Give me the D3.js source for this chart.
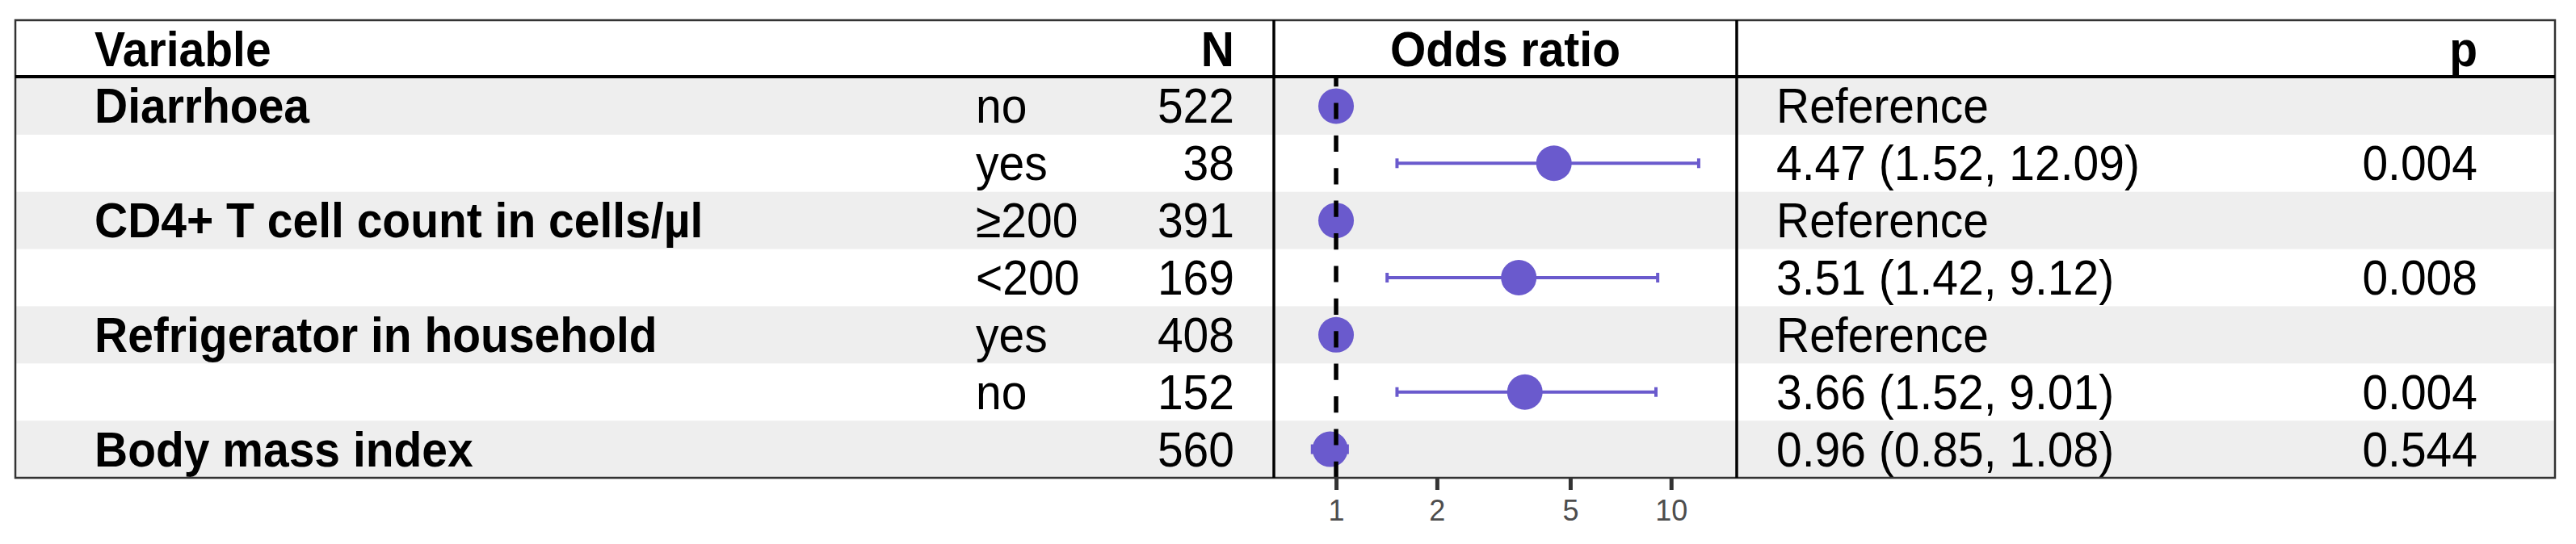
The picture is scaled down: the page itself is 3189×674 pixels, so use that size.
<!DOCTYPE html>
<html>
<head>
<meta charset="utf-8">
<script src="https://cdn.jsdelivr.net/npm/d3@7"></script>
<style>
  body { margin: 0; background: #fff; }
  svg text { font-family: "Liberation Sans", Arial, sans-serif; }
</style>
</head>
<body>
<svg id="chart" width="3189" height="674"></svg>
<script>
// table rows, top to bottom
const variables = ['Diarrhoea', '', 'CD4+ T cell count in cells/µl', '', 'Refrigerator in household', '', 'Body mass index'];
const levels = ['no', 'yes', '≥200', '<200', 'yes', 'no', ''];
const counts = [522, 38, 391, 169, 408, 152, 560];
const estimates = [1, 4.47, 1, 3.51, 1, 3.66, 0.96];
const lower = [null, 1.52, null, 1.42, null, 1.52, 0.85];
const upper = [null, 12.09, null, 9.12, null, 9.01, 1.08];
const estLabels = ['Reference', '4.47 (1.52, 12.09)', 'Reference', '3.51 (1.42, 9.12)', 'Reference', '3.66 (1.52, 9.01)', '0.96 (0.85, 1.08)'];
const pValues = ['', '0.004', '', '0.008', '', '0.004', '0.544'];
const tickValues = [1, 2, 5, 10];

const svg = d3.select('#chart');
const fs = 57;
const stretch = 1.07; // glyphs in the source are a little taller than wide
const frameL = 19, frameR = 3163, frameT = 25, headB = 96, frameB = 592;
const sep1 = 1577, sep2 = 2150;
const pointColor = '#6A5ACD';

const rows = d3.range(variables.length);
const y = d3.scaleBand().domain(rows).range([headB, frameB]);
const x = d3.scaleLog().domain([0.652, 15.7]).range([sep1, sep2]);
const mid = i => y(i) + y.bandwidth() / 2;
const base = i => mid(i) + 21;

// striped backgrounds
svg.selectAll('rect.stripe')
  .data(rows.filter(i => i % 2 === 0))
  .enter().append('rect')
    .attr('class', 'stripe')
    .attr('x', frameL)
    .attr('y', d => y(d))
    .attr('width', frameR - frameL)
    .attr('height', y.bandwidth())
    .attr('fill', '#EEEEEE');

// header
const header = [
  {t: 'Variable', x: 117, a: 'start'},
  {t: 'N', x: 1528, a: 'end'},
  {t: 'Odds ratio', x: (sep1 + sep2) / 2, a: 'middle'},
  {t: 'p', x: 3067, a: 'end'}
];
svg.selectAll('text.head')
  .data(header)
  .enter().append('text')
    .attr('class', 'head')
    .attr('transform', d => `translate(${d.x},${(frameT + headB) / 2 + 21}) scale(1,${stretch})`)
    .attr('text-anchor', d => d.a)
    .attr('font-size', fs)
    .attr('font-weight', 'bold')
    .text(d => d.t);

function column(values, xpos, anchor, weight) {
  svg.append('g')
    .selectAll('text')
    .data(values)
    .enter().append('text')
      .attr('transform', (d, i) => `translate(${xpos},${base(i)}) scale(1,${stretch})`)
      .attr('text-anchor', anchor)
      .attr('font-size', fs)
      .attr('font-weight', weight)
      .attr('fill', '#000')
      .text(d => d);
}
column(variables, 117, 'start', 'bold');
column(levels, 1208, 'start', 'normal');
column(counts, 1528, 'end', 'normal');
column(estLabels, 2199, 'start', 'normal');
column(pValues, 3067, 'end', 'normal');

// error bars
const ci = rows.filter(i => lower[i] != null);
const bars = svg.append('g').attr('stroke', pointColor).attr('stroke-width', 4);
bars.selectAll('line.ci')
  .data(ci)
  .enter().append('line')
    .attr('x1', i => x(lower[i]))
    .attr('x2', i => x(upper[i]))
    .attr('y1', mid)
    .attr('y2', mid);
['lo', 'hi'].forEach(k => {
  bars.selectAll('line.cap' + k)
    .data(ci)
    .enter().append('line')
      .attr('x1', i => x(k === 'lo' ? lower[i] : upper[i]))
      .attr('x2', i => x(k === 'lo' ? lower[i] : upper[i]))
      .attr('y1', i => mid(i) - 6)
      .attr('y2', i => mid(i) + 6);
});

// points
svg.selectAll('circle.pt')
  .data(rows)
  .enter().append('circle')
    .attr('class', 'pt')
    .attr('cx', i => x(estimates[i]))
    .attr('cy', mid)
    .attr('r', 22)
    .attr('fill', pointColor);

// reference line at OR = 1
svg.append('line')
  .attr('x1', x(1)).attr('x2', x(1))
  .attr('y1', frameB).attr('y2', headB)
  .attr('stroke', '#000')
  .attr('stroke-width', 5.5)
  .attr('stroke-dasharray', '20.2,20.2');

// x axis
const axis = svg.append('g')
  .attr('transform', `translate(0,${frameB})`)
  .call(d3.axisBottom(x).tickValues(tickValues).tickFormat(d3.format('d')).tickSize(15).tickPadding(12));
axis.select('.domain').remove();
axis.selectAll('.tick line').attr('stroke', '#333333').attr('stroke-width', 5);
axis.selectAll('.tick text')
  .attr('font-size', 36)
  .attr('fill', '#4D4D4D')
  .attr('font-family', '"Liberation Sans", Arial, sans-serif');

// frame and rules
svg.append('rect')
  .attr('x', frameL).attr('y', frameT)
  .attr('width', frameR - frameL).attr('height', frameB - frameT)
  .attr('fill', 'none')
  .attr('stroke', '#333333')
  .attr('stroke-width', 2.5);
svg.append('line')
  .attr('x1', frameL).attr('x2', frameR)
  .attr('y1', 95).attr('y2', 95)
  .attr('stroke', '#000').attr('stroke-width', 4);
svg.selectAll('line.sep')
  .data([sep1, sep2])
  .enter().append('line')
    .attr('x1', d => d).attr('x2', d => d)
    .attr('y1', frameT).attr('y2', frameB)
    .attr('stroke', '#000').attr('stroke-width', 3.5);
</script>
</body>
</html>
